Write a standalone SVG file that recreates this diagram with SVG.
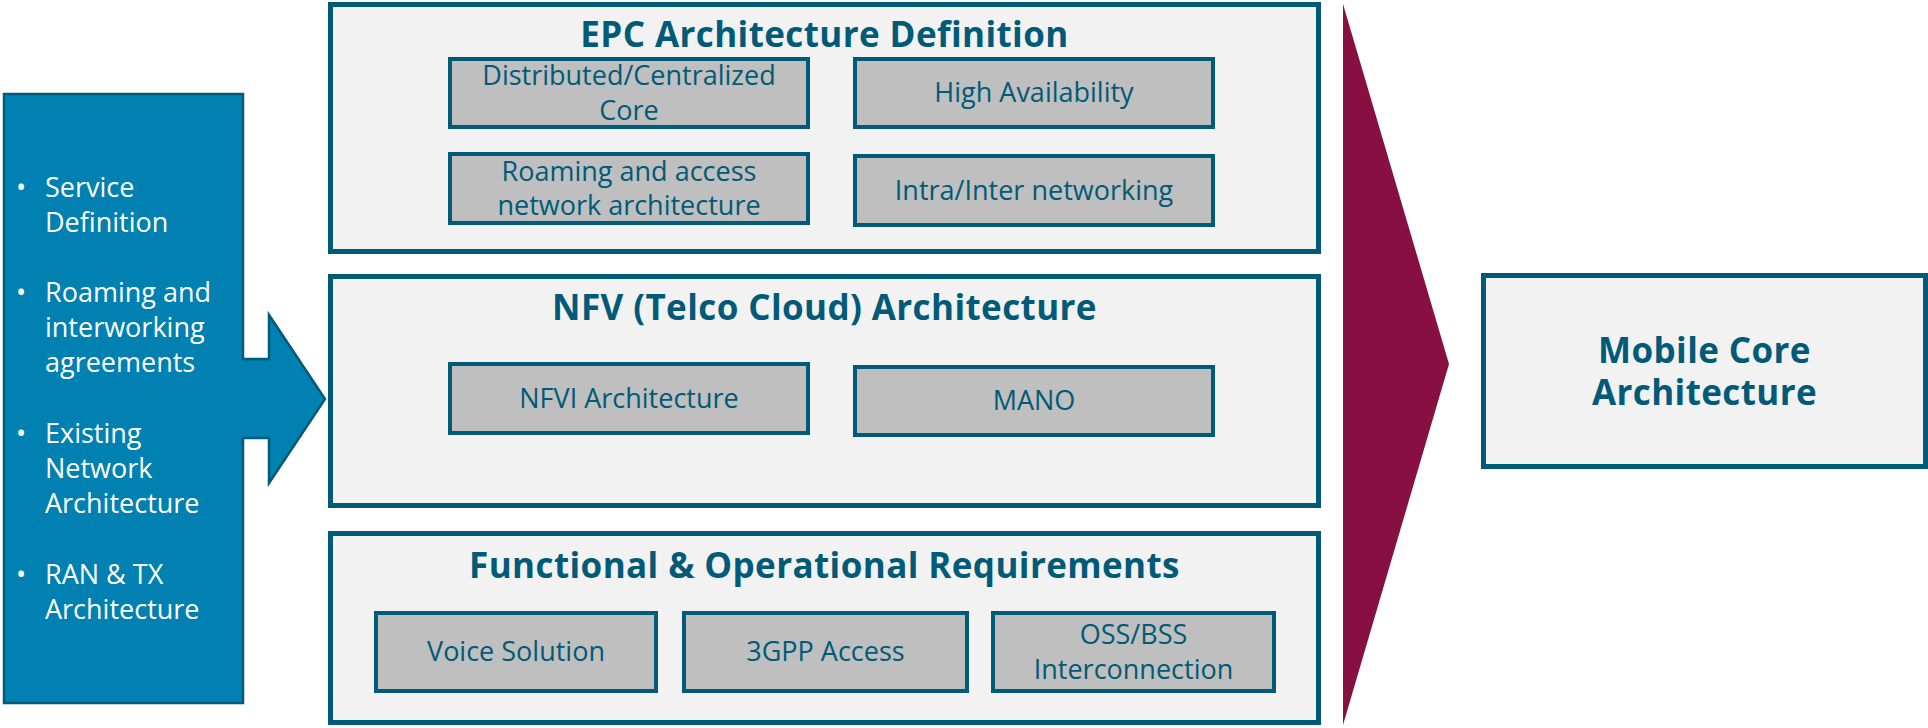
<svg xmlns="http://www.w3.org/2000/svg" width="1928" height="728" viewBox="0 0 1928 728">
  <style>
    .panel { fill: #F2F2F2; stroke: #005A78; stroke-width: 5; }
    .item { fill: #BFBFBF; stroke: #005A78; stroke-width: 4; }
    .title { font-family: "Open Sans", "Noto Sans", "Liberation Sans", sans-serif; font-weight: 700; font-size: 35px; letter-spacing: 0.4px; fill: #005A78; text-anchor: middle; }
    .label { font-family: "Open Sans", "Noto Sans", "Liberation Sans", sans-serif; font-size: 27px; fill: #005A78; text-anchor: middle; }
    .bullet { font-family: "Open Sans", "Noto Sans", "Liberation Sans", sans-serif; font-size: 27px; fill: #FFFFFF; }
  </style>

  <rect width="1928" height="728" fill="#FFFFFF"/>

  <!-- Inputs block with its arrow into the architecture panels -->
  <g id="inputs">
    <path d="M4,94 H243 V359 H269 V315 L325,399 L269,483 V438 H243 V703 H4 Z" fill="#0081B1" stroke="#005A78" stroke-width="2.5" stroke-linejoin="miter"/>
    <g class="bullet">
      <text x="21" y="197" text-anchor="middle">•</text>
      <text x="45" y="197">Service</text>
      <text x="45" y="232">Definition</text>
      <text x="21" y="302" text-anchor="middle">•</text>
      <text x="45" y="302">Roaming and</text>
      <text x="45" y="337">interworking</text>
      <text x="45" y="372">agreements</text>
      <text x="21" y="443" text-anchor="middle">•</text>
      <text x="45" y="443">Existing</text>
      <text x="45" y="478">Network</text>
      <text x="45" y="513">Architecture</text>
      <text x="21" y="584" text-anchor="middle">•</text>
      <text x="45" y="584">RAN &amp; TX</text>
      <text x="45" y="619">Architecture</text>
    </g>
  </g>

  <!-- EPC panel -->
  <g id="epc">
    <rect class="panel" x="330.5" y="4.5" width="988" height="247"/>
    <text class="title" x="824.5" y="47">EPC Architecture Definition</text>
    <g id="epc-core">
      <rect class="item" x="450" y="59" width="358" height="68"/>
      <text class="label" x="629" y="85">Distributed/Centralized</text>
      <text class="label" x="629" y="120">Core</text>
    </g>
    <g id="epc-ha">
      <rect class="item" x="855" y="59" width="358" height="68"/>
      <text class="label" x="1034" y="102">High Availability</text>
    </g>
    <g id="epc-roaming">
      <rect class="item" x="450" y="154" width="358" height="69"/>
      <text class="label" x="629" y="181">Roaming and access</text>
      <text class="label" x="629" y="215">network architecture</text>
    </g>
    <g id="epc-networking">
      <rect class="item" x="855" y="156" width="358" height="69"/>
      <text class="label" x="1034" y="200">Intra/Inter networking</text>
    </g>
  </g>

  <!-- NFV panel -->
  <g id="nfv">
    <rect class="panel" x="330.5" y="276.5" width="988" height="229"/>
    <text class="title" x="824.5" y="320">NFV (Telco Cloud) Architecture</text>
    <g id="nfv-nfvi">
      <rect class="item" x="450" y="364" width="358" height="69"/>
      <text class="label" x="629" y="408">NFVI Architecture</text>
    </g>
    <g id="nfv-mano">
      <rect class="item" x="855" y="367" width="358" height="68"/>
      <text class="label" x="1034" y="410">MANO</text>
    </g>
  </g>

  <!-- Requirements panel -->
  <g id="requirements">
    <rect class="panel" x="330.5" y="533.5" width="988" height="189"/>
    <text class="title" x="824.5" y="578">Functional &amp; Operational Requirements</text>
    <g id="req-voice">
      <rect class="item" x="376" y="613" width="280" height="78"/>
      <text class="label" x="516" y="661">Voice Solution</text>
    </g>
    <g id="req-3gpp">
      <rect class="item" x="684" y="613" width="283" height="78"/>
      <text class="label" x="825.5" y="661">3GPP Access</text>
    </g>
    <g id="req-oss">
      <rect class="item" x="993" y="613" width="281" height="78"/>
      <text class="label" x="1133.5" y="644">OSS/BSS</text>
      <text class="label" x="1133.5" y="679">Interconnection</text>
    </g>
  </g>

  <!-- Result -->
  <g id="mobile-core">
    <rect class="panel" x="1483.5" y="275.5" width="442" height="191"/>
    <text class="title" x="1704.5" y="363">Mobile Core</text>
    <text class="title" x="1704.5" y="405">Architecture</text>
  </g>

  <!-- Chevron leading from the panels to the result -->
  <g id="connectors">
    <polygon points="1343,4 1449,364 1343,725" fill="#870F41"/>
  </g>
</svg>
